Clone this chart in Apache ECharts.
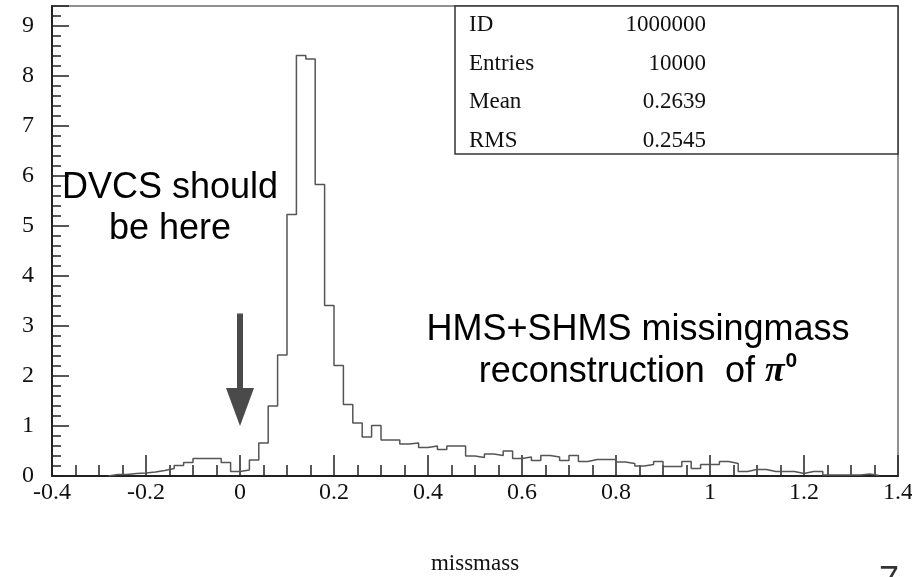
<!DOCTYPE html>
<html>
<head>
<meta charset="utf-8">
<script src="https://cdn.jsdelivr.net/npm/echarts@6/dist/echarts.min.js"></script>
<style>
  html, body { margin: 0; padding: 0; background: #fff; }
  #chart { width: 912px; height: 577px; }
</style>
</head>
<body>
<div id="chart"></div>
<script>
// Histogram of the reconstructed missing mass (bin width 0.02)
const binWidth = 0.02;
const binLow = [
  -0.28, -0.26, -0.24, -0.22, -0.20, -0.18, -0.16, -0.14, -0.12, -0.10,
  -0.08, -0.06, -0.04, -0.02, 0.00, 0.02, 0.04, 0.06, 0.08, 0.10,
  0.12, 0.14, 0.16, 0.18, 0.20, 0.22, 0.24, 0.26, 0.28, 0.30,
  0.32, 0.34, 0.36, 0.38, 0.40, 0.42, 0.44, 0.46, 0.48, 0.50,
  0.52, 0.54, 0.56, 0.58, 0.60, 0.62, 0.64, 0.66, 0.68, 0.70,
  0.72, 0.74, 0.76, 0.78, 0.80, 0.82, 0.84, 0.86, 0.88, 0.90,
  0.92, 0.94, 0.96, 0.98, 1.00, 1.02, 1.04, 1.06, 1.08, 1.10,
  1.12, 1.14, 1.16, 1.18, 1.20, 1.22, 1.24, 1.26, 1.28, 1.30,
  1.32, 1.34
];
const binContent = [
  0.03, 0.03, 0.05, 0.06, 0.08, 0.11, 0.15, 0.21, 0.27, 0.35,
  0.35, 0.35, 0.27, 0.09, 0.12, 0.32, 0.66, 1.40, 2.42, 5.23,
  8.41, 8.34, 5.83, 3.41, 2.21, 1.43, 1.06, 0.78, 1.01, 0.72,
  0.72, 0.64, 0.66, 0.57, 0.60, 0.53, 0.60, 0.60, 0.40, 0.37,
  0.44, 0.41, 0.50, 0.35, 0.38, 0.31, 0.41, 0.38, 0.31, 0.41,
  0.29, 0.33, 0.33, 0.33, 0.28, 0.25, 0.20, 0.23, 0.29, 0.19,
  0.19, 0.29, 0.15, 0.23, 0.23, 0.29, 0.25, 0.09, 0.13, 0.13,
  0.09, 0.09, 0.09, 0.05, 0.09, 0.09, 0.02, 0.02, 0.02, 0.02,
  0.04, 0.01
];

// Statistics box rows
const statNames = ['ID', 'Entries', 'Mean', 'RMS'];
const statValues = ['1000000', '10000', '0.2639', '0.2545'];

// Axis settings
const xMin = -0.4, xMax = 1.4, xStep = 0.2;
const yMin = 0, yMax = 9.4, yStep = 1, yMinorStep = 0.2;
const xTitle = 'missmass';

// Step outline: start at the axis, then each bin's upper edge with its content
const outline = [[binLow[0], 0]];
binLow.forEach((lo, i) => outline.push([+(lo + binWidth).toFixed(4), binContent[i]]));
outline.push([outline[outline.length - 1][0], 0]);

const serif = 'Liberation Serif, Times New Roman, serif';
const sans = 'Liberation Sans, Arial, sans-serif';

const chart = echarts.init(document.getElementById('chart'), null, { renderer: 'canvas' });

chart.setOption({
  animation: false,
  backgroundColor: '#ffffff',
  grid: {
    left: 52, right: 14, top: 6, bottom: 101,
    outerBoundsMode: 'none', containLabel: false,
    show: true, borderColor: '#6e6e6e', borderWidth: 1.5, backgroundColor: 'transparent'
  },
  xAxis: {
    type: 'value', min: xMin, max: xMax, interval: xStep,
    name: xTitle, nameLocation: 'middle', nameGap: 76,
    nameTextStyle: { fontFamily: serif, fontSize: 23, color: '#111' },
    axisLine: { onZero: false, lineStyle: { color: '#222', width: 2 } },
    axisTick: { inside: true, length: 21, lineStyle: { color: '#222', width: 1.5 } },
    minorTick: { show: true, splitNumber: 4, length: 11, lineStyle: { color: '#222', width: 1.5 } },
    axisLabel: { fontFamily: serif, fontSize: 24, color: '#111', margin: 5 },
    splitLine: { show: false }
  },
  yAxis: [
    {
      type: 'value', min: yMin, max: yMax, interval: yStep,
      axisLine: { show: true, onZero: false, lineStyle: { color: '#222', width: 2 } },
      axisTick: { show: true, inside: true, length: 17, lineStyle: { color: '#222', width: 1.5 } },
      axisLabel: {
        fontFamily: serif, fontSize: 24, color: '#111', margin: 18,
        formatter: v => (Math.abs(v - Math.round(v)) < 1e-9 ? String(Math.round(v)) : '')
      },
      splitLine: { show: false }
    },
    {
      type: 'value', min: yMin, max: yMax, interval: yMinorStep, position: 'left',
      axisLine: { show: false, onZero: false },
      axisTick: { show: true, inside: true, length: 9, lineStyle: { color: '#222', width: 1.5 } },
      axisLabel: { show: false },
      splitLine: { show: false }
    }
  ],
  series: [{
    type: 'line',
    yAxisIndex: 0,
    step: 'start',
    data: outline,
    symbol: 'none',
    lineStyle: { color: '#555', width: 1.5 },
    z: 3
  }]
});

// Annotations placed relative to the axes
const arrowTop = chart.convertToPixel({ gridIndex: 0 }, [0, 3.25]);
const arrowTip = chart.convertToPixel({ gridIndex: 0 }, [0, 1.0]);
const headBase = arrowTip[1] - 38;

const statChildren = [
  { type: 'rect', shape: { x: 455, y: 6, width: 443, height: 148 },
    style: { fill: '#fff', stroke: '#333', lineWidth: 1.5 }, z: 10 }
];
statNames.forEach((n, i) => {
  const cy = 25 + i * 38.5;
  statChildren.push({ type: 'text', x: 469, y: cy, z: 11,
    style: { text: n, font: '23px ' + serif, fill: '#111', textVerticalAlign: 'middle' } });
  statChildren.push({ type: 'text', x: 706, y: cy, z: 11,
    style: { text: statValues[i], font: '23px ' + serif, fill: '#111', textAlign: 'right', textVerticalAlign: 'middle' } });
});

chart.setOption({
  graphic: [
    { type: 'group', children: statChildren },
    { type: 'rect', z: 12,
      shape: { x: arrowTop[0] - 3, y: arrowTop[1], width: 6, height: headBase - arrowTop[1] + 2 },
      style: { fill: '#4a4a4a' } },
    { type: 'polygon', z: 12,
      shape: { points: [[arrowTip[0] - 14, headBase], [arrowTip[0] + 14, headBase], [arrowTip[0], arrowTip[1]]] },
      style: { fill: '#4a4a4a' } },
    { type: 'text', x: 170, y: 209, z: 12,
      style: { text: 'DVCS should\nbe here', font: '36px ' + sans, fill: '#000',
               textAlign: 'center', textVerticalAlign: 'middle', lineHeight: 41 } },
    { type: 'text', x: 638, y: 330, z: 12,
      style: { text: 'HMS+SHMS missingmass', font: '36px ' + sans, fill: '#000',
               textAlign: 'center', textVerticalAlign: 'middle' } },
    { type: 'text', x: 638, y: 372, z: 12,
      style: {
        text: '{a|reconstruction  of }{p|π}{s|0}',
        textAlign: 'center', textVerticalAlign: 'middle',
        rich: {
          a: { font: '36px ' + sans, fill: '#000', color: '#000', lineHeight: 42 },
          p: { fontFamily: serif, fontSize: 36, fontWeight: 'bold', fontStyle: 'italic', color: '#000', lineHeight: 42 },
          s: { fontFamily: sans, fontSize: 21, fontWeight: 'bold', color: '#000', verticalAlign: 'top', lineHeight: 42, padding: [0, 0, 16, 1] }
        }
      } },
    { type: 'text', x: 879, y: 564, z: 12,
      style: { text: '7', font: '36px ' + sans, fill: '#333', textVerticalAlign: 'top' } }
  ]
});
</script>
</body>
</html>
